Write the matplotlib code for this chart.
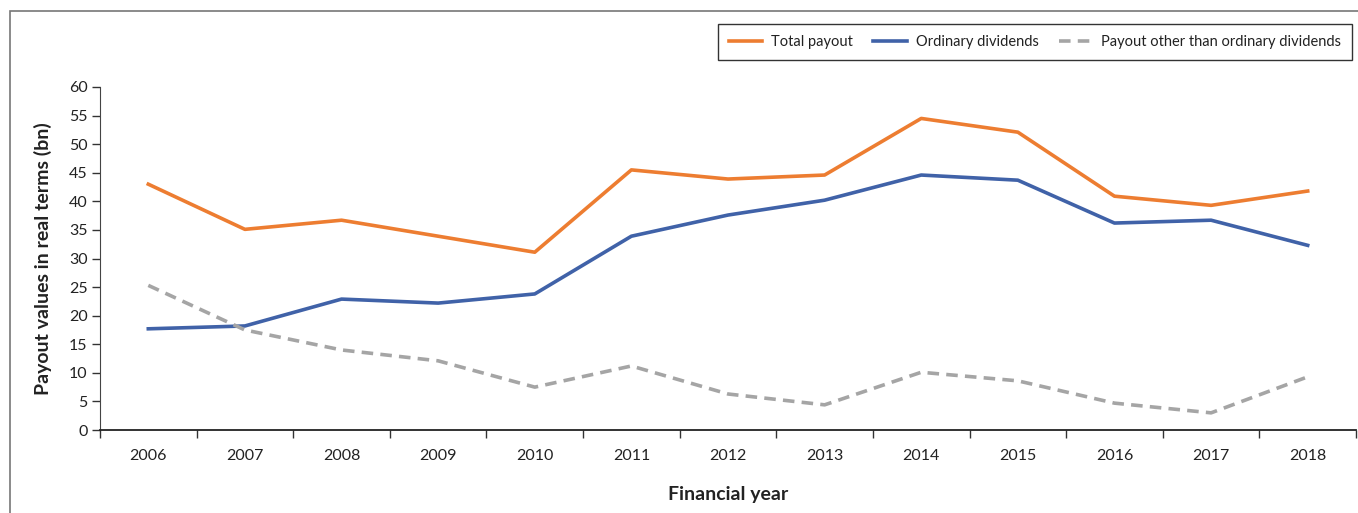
import matplotlib.pyplot as plt
from matplotlib.patches import Rectangle

years = ["2006", "2007", "2008", "2009", "2010", "2011", "2012",
         "2013", "2014", "2015", "2016", "2017", "2018"]
total_payout = [43.0, 35.1, 36.7, 33.9, 31.1, 45.5, 43.9, 44.6, 54.5, 52.1, 40.9, 39.3, 41.8]
ordinary_div = [17.7, 18.2, 22.9, 22.2, 23.8, 33.9, 37.6, 40.2, 44.6, 43.7, 36.2, 36.7, 32.3]
other_payout = [25.3, 17.5, 14.0, 12.1, 7.5, 11.2, 6.3, 4.4, 10.1, 8.6, 4.7, 3.0, 9.3]

plt.rcParams['font.family'] = ['Lato', 'DejaVu Sans']

fig = plt.figure(figsize=(13.58, 5.13), dpi=100)
ax = fig.add_axes([100 / 1358, 1 - 430 / 513, 1256 / 1358, 343 / 513])

x = list(range(len(years)))
ax.plot(x, total_payout, color="#ED7D31", linewidth=2.6, label="Total payout")
ax.plot(x, ordinary_div, color="#4062A8", linewidth=2.6, label="Ordinary dividends")
ax.plot(x, other_payout, color="#A5A5A5", linewidth=2.6, linestyle=(0, (3.2, 2)),
        label="Payout other than ordinary dividends")

ax.set_xlim(-0.5, len(years) - 0.5)
ax.set_ylim(0, 60)
ax.set_yticks(range(0, 61, 5))
ax.set_xticks(x)
ax.set_xticklabels(years)
ax.set_xticks([i - 0.5 for i in range(len(years) + 1)], minor=True)
ax.tick_params(axis="x", which="major", length=0, pad=14, labelsize=11.5, labelcolor="#222222")
ax.tick_params(axis="x", which="minor", length=6, width=1, color="#333333", direction="out")
ax.tick_params(axis="y", length=6, width=1, color="#333333", labelsize=11.5, pad=3,
               labelcolor="#222222")

for s in ["top", "right"]:
    ax.spines[s].set_visible(False)
ax.spines["left"].set_color("#444444")
ax.spines["bottom"].set_color("#222222")
ax.spines["bottom"].set_linewidth(1.3)

ax.set_ylabel("Payout values in real terms (bn)", fontweight="bold", fontsize=14,
              labelpad=12, color="#222222")
ax.set_xlabel("Financial year", fontweight="bold", fontsize=14, labelpad=16, color="#222222")

# outer frame
fig.patches.append(Rectangle((10 / 1358, -0.2), 1.2, 1.2 - 11 / 513,
                             transform=fig.transFigure, fill=False,
                             edgecolor="#777777", linewidth=1.2))

leg = fig.legend(loc="upper right", bbox_to_anchor=(1.001, 1 - 17 / 513),
                 ncol=3, fontsize=10.5, frameon=True, fancybox=False, edgecolor="black",
                 handlelength=2.3, columnspacing=1.4, handletextpad=0.6, borderpad=0.75)
leg.get_frame().set_linewidth(1.0)
for t in leg.get_texts():
    t.set_color("#222222")

fig.savefig("out.png", dpi=100)
